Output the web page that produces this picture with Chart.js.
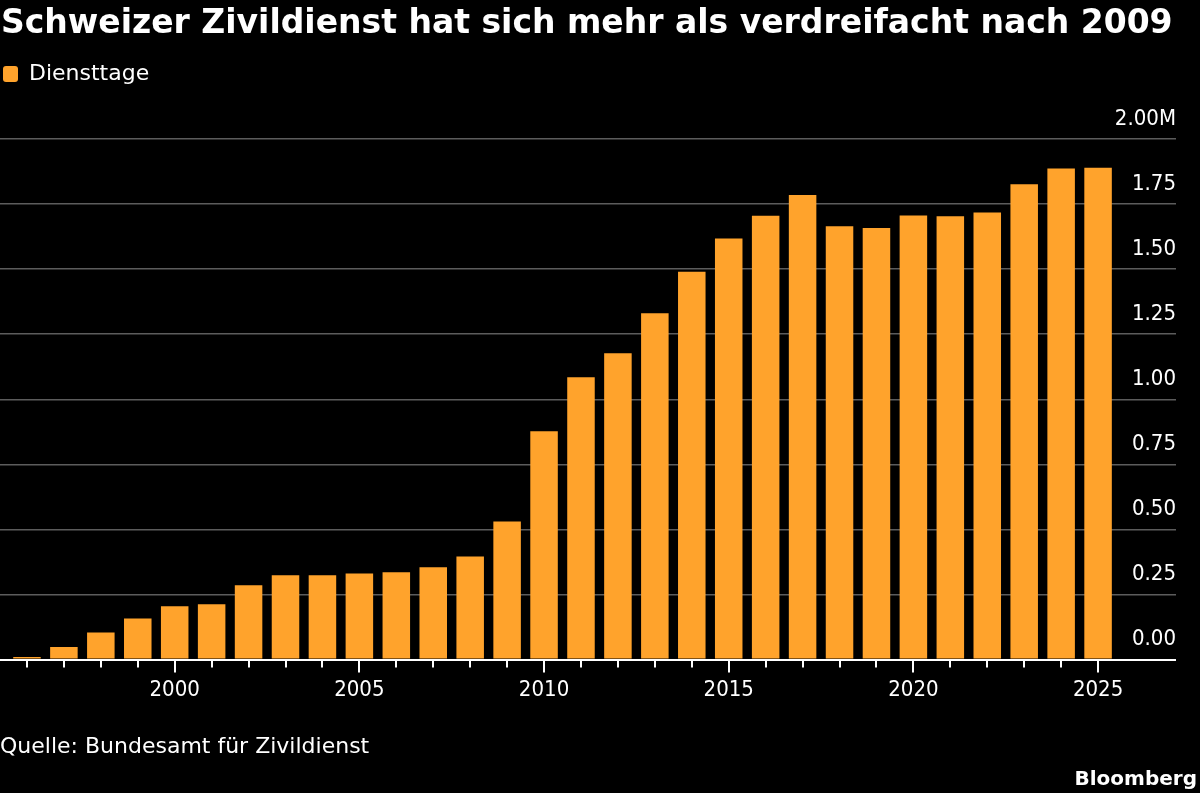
<!DOCTYPE html>
<html>
<head>
<meta charset="utf-8">
<script src="https://cdn.jsdelivr.net/npm/chart.js@4/dist/chart.umd.min.js"></script>
<style>
  html, body { margin: 0; padding: 0; background: #000; }
  #wrap { position: relative; width: 1200px; height: 793px; }
</style>
</head>
<body>
<div id="wrap"><canvas id="chart"></canvas></div>
<script>
// Diensttage per year, in millions
const years = [1996, 1997, 1998, 1999, 2000, 2001, 2002, 2003, 2004, 2005,
               2006, 2007, 2008, 2009, 2010, 2011, 2012, 2013, 2014, 2015,
               2016, 2017, 2018, 2019, 2020, 2021, 2022, 2023, 2024, 2025];
const diensttage = [0.010, 0.048, 0.104, 0.158, 0.205, 0.213, 0.286, 0.324, 0.324, 0.331,
                    0.336, 0.355, 0.396, 0.531, 0.877, 1.085, 1.177, 1.331, 1.490, 1.618,
                    1.705, 1.785, 1.665, 1.658, 1.706, 1.703, 1.718, 1.826, 1.887, 1.890];
const yTicks = [0, 0.25, 0.5, 0.75, 1, 1.25, 1.5, 1.75, 2];

const titleText = "Schweizer Zivildienst hat sich mehr als verdreifacht nach 2009";
const sourceText = "Quelle: Bundesamt für Zivildienst";
const seriesName = "Diensttage";

const orange = "#ffa32c";
const labelFont = { family: "'DejaVu Sans Condensed', 'DejaVu Sans', sans-serif", size: 22 };

// extra room between the legend and the plot
const legendGap = {
  id: 'legendGap',
  beforeInit(chart) {
    const fit = chart.legend.fit;
    chart.legend.fit = function () {
      fit.bind(chart.legend)();
      this.height += 44;
    };
  }
};

// title, source, logo and the year tick marks
const decorations = {
  id: 'decorations',
  afterDraw(chart) {
    const ctx = chart.ctx;
    const xs = chart.scales.x;
    const base = chart.scales.y.getPixelForValue(0);
    ctx.save();
    ctx.strokeStyle = '#ffffff';
    ctx.lineWidth = 2;
    years.forEach(function (yr) {
      const px = Math.round(xs.getPixelForValue(yr));
      const len = yr % 5 === 0 ? 13 : 8;
      ctx.beginPath();
      ctx.moveTo(px, base);
      ctx.lineTo(px, base + len);
      ctx.stroke();
    });
    ctx.fillStyle = '#ffffff';
    ctx.textBaseline = 'alphabetic';
    ctx.textAlign = 'left';
    ctx.font = "bold 33px 'DejaVu Sans'";
    ctx.fillText(titleText, 1, 33);
    ctx.font = "22px 'DejaVu Sans'";
    ctx.fillText(sourceText, 0, 753);
    ctx.textAlign = 'right';
    ctx.font = "bold 20px 'DejaVu Sans'";
    ctx.fillText("Bloomberg", 1197, 785);
    ctx.restore();
  }
};

new Chart(document.getElementById('chart'), {
  type: 'bar',
  data: {
    labels: years,
    datasets: [{
      label: seriesName,
      data: diensttage,
      backgroundColor: orange,
      borderWidth: 0,
      categoryPercentage: 1,
      barPercentage: 0.745
    }]
  },
  options: {
    responsive: true,
    maintainAspectRatio: false,
    animation: false,
    layout: { padding: { top: 60, right: 24, bottom: 73, left: 0 } },
    plugins: {
      tooltip: { enabled: false },
      legend: {
        position: 'top',
        align: 'start',
        labels: {
          color: '#ffffff',
          font: { family: "'DejaVu Sans', sans-serif", size: 22 },
          boxWidth: 15,
          boxHeight: 16,
          padding: 3,
          useBorderRadius: true,
          borderRadius: 3
        }
      }
    },
    scales: {
      x: {
        type: 'linear',
        offset: false,
        min: years[0] - 0.73,
        max: years[years.length - 1] + 2.11,
        grid: { display: false, drawTicks: false },
        border: { display: false },
        ticks: {
          stepSize: 1,
          includeBounds: false,
          autoSkip: false,
          maxRotation: 0,
          padding: 17,
          color: '#ffffff',
          font: labelFont,
          callback: function (v) {
            return (v % 5 === 0 && v <= years[years.length - 1]) ? String(v) : '';
          }
        }
      },
      y: {
        position: 'right',
        min: 0,
        max: 2,
        afterBuildTicks: function (scale) {
          scale.ticks = yTicks.map(function (v) { return { value: v }; });
        },
        grid: {
          drawTicks: false,
          color: function (c) { return c.tick.value === 0 ? '#ffffff' : '#5c5c5c'; },
          lineWidth: function (c) { return c.tick.value === 0 ? 2 : 1.5; }
        },
        border: { display: false },
        ticks: {
          mirror: true,
          padding: 0,
          labelOffset: -20,
          color: '#ffffff',
          font: labelFont,
          callback: function (v) {
            return v === 2 ? '2.00M' : v.toFixed(2);
          }
        }
      }
    }
  },
  plugins: [legendGap, decorations]
});
</script>
</body>
</html>
